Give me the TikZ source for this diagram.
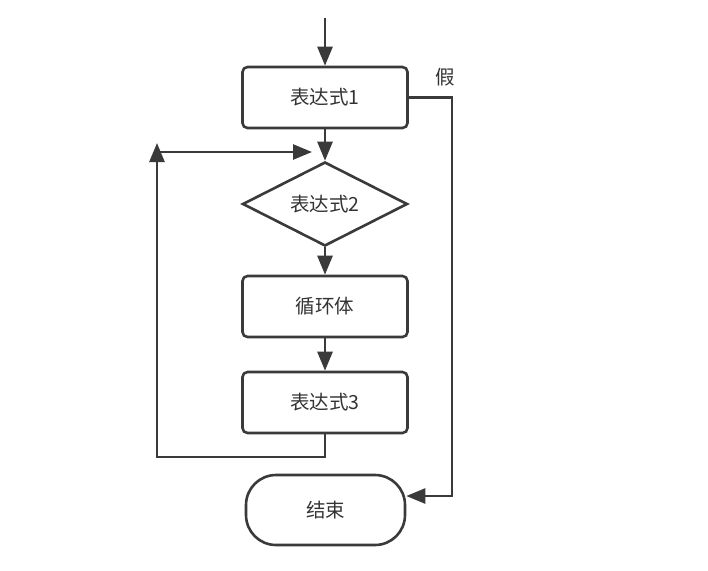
\documentclass[tikz,border=0pt]{standalone}
\usepackage{fontspec}
\setmainfont{Noto Sans CJK SC}
\usetikzlibrary{arrows.meta, shapes.geometric}

\definecolor{linegray}{HTML}{3A3A3A}
\definecolor{textgray}{HTML}{333333}

\begin{document}
\begin{tikzpicture}[x=1pt, y=-1pt,
        every node/.style={font=\fontsize{19.5}{19.5}\selectfont, text=textgray},
        box/.style={draw=linegray, line width=2.6pt, rounded corners=5pt, minimum width=165pt, minimum height=61pt, inner sep=0pt},
        cond/.style={draw=linegray, line width=2.6pt, diamond, aspect=2, minimum width=165pt, minimum height=84pt, inner sep=0pt},
        term/.style={draw=linegray, line width=2.6pt, rounded corners=30pt, minimum width=159pt, minimum height=70pt, inner sep=0pt},
        arr/.style={draw=linegray, line width=2.6pt, -{Triangle[length=19pt, width=15pt]}}]
        \useasboundingbox (0,0) rectangle (708,570);

        \coordinate (top) at (325, 18);
        \node[box] (e1) at (325, 97.5) {表达式1};
        \node[cond] (e2) at (325, 204) {表达式2};
        \node[box] (body) at (325, 306.5) {循环体};
        \node[box] (e3) at (325, 402.5) {表达式3};
        \node[term] (stop) at (325.5, 510) {结束};
        \node (no) at (445, 77) {假};

        \draw[arr] (top) -- (e1);
        \draw[arr] (e1) -- (e2);
        \draw[arr] (e2) -- (body);
        \draw[arr] (body) -- (e3);

        % loop back
        \coordinate (lb) at (157, 457);
        \coordinate (lt) at (157, 143);
        \draw[arr] (e3.south) |- (lb) -- (lt);
        \coordinate (hl) at (157, 152);
        \coordinate (hr) at (312, 152);
        \draw[arr] (hl) -- (hr);

        % false branch
        \coordinate (fr) at (452, 97.5);
        \draw[arr] (e1.east) -- (fr) |- ([yshift=14pt]stop.east);

    \end{tikzpicture}
\end{document}
